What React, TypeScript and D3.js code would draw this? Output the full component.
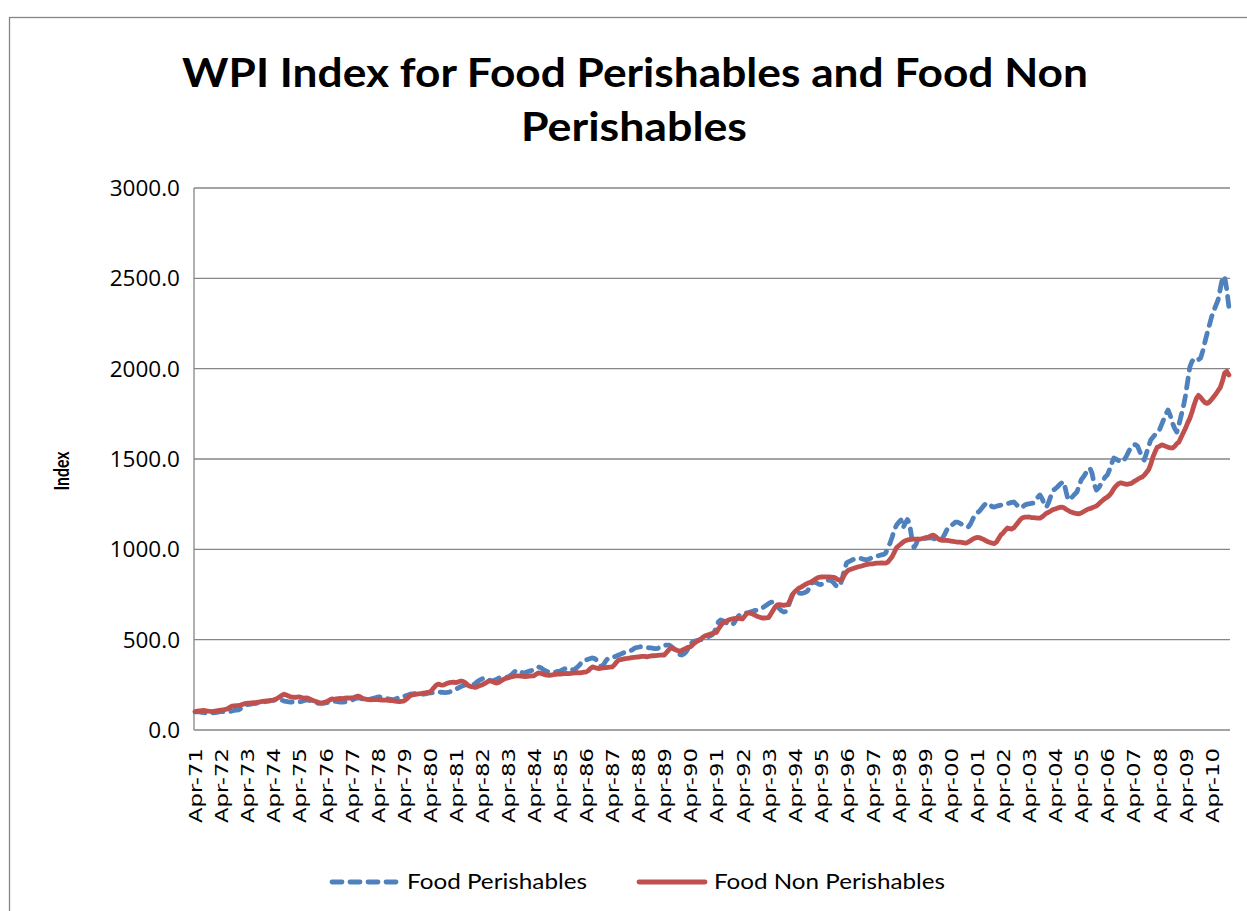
import React from 'react';
import * as d3 from 'd3';

const titleLines = ['WPI Index for Food Perishables and Food Non', 'Perishables'];
const yAxisTitle = 'Index';
const seriesNames = ['Food Perishables', 'Food Non Perishables'];
const yTicks = [0, 500, 1000, 1500, 2000, 2500, 3000];
const monthNames = ['Jan', 'Feb', 'Mar', 'Apr', 'May', 'Jun', 'Jul', 'Aug', 'Sep', 'Oct', 'Nov', 'Dec'];
const startYear = 1971;
const startMonth = 3; // April

// Monthly values, Apr-71 .. Dec-10 (one row per Apr..Mar year)
const perishables = [
  100, 101, 100, 98, 96, 95, 94, 94, 95, 96, 98, 100,
  102, 101, 100, 100, 102, 105, 108, 110, 112, 118, 125, 132,
  140, 142, 145, 146, 148, 150, 152, 154, 156, 158, 160, 162,
  164, 168, 172, 170, 165, 160, 158, 156, 155, 155, 154, 155,
  155, 158, 162, 165, 166, 162, 158, 154, 150, 148, 147, 148,
  150, 152, 156, 160, 160, 158, 156, 155, 155, 156, 158, 160,
  165, 170, 175, 178, 176, 172, 170, 169, 170, 172, 175, 178,
  182, 184, 183, 180, 176, 172, 170, 168, 170, 175, 180, 184,
  186, 190, 194, 198, 200, 202, 205, 204, 200, 198, 200, 203,
  205, 206, 208, 210, 210, 209, 208, 207, 208, 210, 214, 220,
  224, 232, 238, 244, 248, 250, 248, 246, 250, 258, 268, 276,
  282, 288, 286, 280, 274, 272, 276, 282, 288, 292, 294, 293,
  293, 300, 310, 322, 330, 328, 320, 316, 318, 322, 326, 330,
  335, 342, 349, 346, 338, 330, 324, 321, 320, 321, 322, 324,
  326, 332, 338, 343, 340, 336, 334, 338, 348, 360, 375, 386,
  388, 392, 396, 399, 395, 385, 370, 352, 360, 380, 395, 400,
  402, 405, 410, 415, 420, 426, 430, 432, 436, 442, 450, 456,
  458, 461, 460, 458, 456, 455, 454, 452, 450, 452, 458, 464,
  468, 470, 470, 465, 455, 440, 425, 418, 415, 420, 432, 450,
  470, 487, 492, 495, 498, 500, 505, 510, 515, 520, 526, 540,
  570, 600, 609, 605, 598, 590, 584, 581, 590, 610, 628, 640,
  642, 646, 648, 650, 654, 658, 662, 664, 668, 674, 682, 690,
  700, 706, 709, 704, 690, 672, 660, 653, 656, 680, 715, 745,
  758, 760, 758, 756, 758, 762, 770, 790, 813, 819, 815, 808,
  805, 810, 820, 828, 830, 825, 815, 800, 792, 800, 840, 890,
  925, 932, 938, 944, 948, 950, 952, 948, 944, 942, 945, 950,
  955, 958, 962, 966, 969, 972, 980, 1010, 1035, 1070, 1110, 1135,
  1150, 1162, 1120, 1145, 1165, 1140, 1060, 1010, 1030, 1063, 1062, 1063,
  1060, 1062, 1064, 1063, 1060, 1056, 1054, 1052, 1060, 1080, 1105, 1124,
  1130, 1140, 1150, 1151, 1145, 1138, 1130, 1126, 1124, 1140, 1165, 1190,
  1201, 1210, 1225, 1240, 1252, 1256, 1248, 1236, 1234, 1238, 1242, 1245,
  1245, 1248, 1252, 1256, 1260, 1262, 1250, 1238, 1229, 1235, 1245, 1250,
  1252, 1254, 1256, 1270, 1288, 1301, 1280, 1250, 1234, 1260, 1295, 1325,
  1335, 1345, 1358, 1368, 1373, 1320, 1273, 1280, 1292, 1305, 1317, 1350,
  1385, 1400, 1420, 1440, 1450, 1420, 1360, 1328, 1340, 1360, 1380, 1400,
  1411, 1440, 1475, 1505, 1500, 1492, 1486, 1484, 1500, 1520, 1545, 1565,
  1577, 1580, 1570, 1540, 1510, 1494, 1530, 1570, 1605, 1620, 1635, 1648,
  1660, 1690, 1720, 1750, 1771, 1740, 1699, 1670, 1649, 1690, 1740, 1788,
  1850, 1930, 2009, 2040, 2055, 2059, 2050, 2060, 2100, 2150, 2197, 2240,
  2286, 2320, 2350, 2380, 2440, 2500, 2510, 2440, 2340,
];

const nonPerishables = [
  102, 104, 106, 107, 108, 106, 104, 103, 102, 104, 106, 108,
  110, 112, 114, 118, 125, 132, 134, 135, 136, 138, 142, 146,
  148, 149, 150, 151, 152, 154, 156, 158, 160, 161, 162, 164,
  166, 170, 176, 184, 192, 198, 194, 188, 184, 182, 180, 182,
  183, 180, 175, 178, 176, 170, 165, 160, 156, 152, 150, 152,
  155, 160, 166, 172, 170, 172, 174, 175, 174, 176, 178, 177,
  177, 180, 184, 188, 184, 176, 172, 170, 168, 167, 168, 168,
  168, 167, 166, 165, 165, 164, 163, 162, 160, 158, 157, 159,
  160, 168, 178, 190, 194, 196, 198, 200, 202, 204, 206, 208,
  210, 220, 235, 248, 254, 250, 248, 252, 258, 262, 264, 265,
  262, 266, 270, 271, 265, 255, 245, 240, 238, 236, 240, 246,
  249, 255, 262, 270, 271, 268, 262, 260, 264, 272, 280, 286,
  288, 292, 295, 298, 299, 300, 298, 297, 296, 297, 298, 299,
  300, 308, 316, 314, 310, 306, 304, 303, 304, 306, 308, 309,
  310, 311, 312, 313, 312, 314, 315, 316, 317, 316, 318, 320,
  321, 328, 340, 349, 346, 342, 340, 342, 344, 345, 347, 348,
  349, 360, 375, 387, 390, 392, 395, 396, 398, 400, 402, 403,
  404, 406, 408, 407, 405, 408, 410, 411, 412, 413, 414, 415,
  415, 428, 442, 454, 452, 446, 440, 437, 440, 446, 452, 458,
  460, 470, 482, 490, 498, 505, 515, 522, 526, 530, 534, 538,
  540, 560, 578, 592, 600, 605, 610, 614, 616, 618, 618, 617,
  615, 630, 645, 648, 645, 640, 634, 628, 624, 620, 620, 621,
  622, 640, 660, 680, 692, 694, 692, 690, 692, 694, 720, 750,
  764, 775, 785, 791, 798, 806, 812, 816, 822, 830, 838, 844,
  847, 847, 848, 848, 847, 846, 845, 840, 832, 830, 836, 860,
  876, 886, 890, 894, 898, 902, 905, 908, 912, 915, 918, 920,
  920, 922, 924, 924, 925, 924, 924, 930, 945, 960, 985, 1010,
  1020, 1030, 1040, 1048, 1052, 1054, 1056, 1057, 1056, 1056, 1057, 1060,
  1063, 1066, 1070, 1076, 1079, 1070, 1060, 1052, 1050, 1050, 1050, 1048,
  1046, 1044, 1042, 1040, 1040, 1038, 1036, 1035, 1040, 1048, 1056, 1062,
  1066, 1065, 1060, 1055, 1048, 1042, 1038, 1034, 1032, 1040, 1060, 1080,
  1090, 1105, 1118, 1115, 1112, 1120, 1135, 1150, 1165, 1175, 1178, 1178,
  1179, 1176, 1175, 1174, 1173, 1173, 1180, 1190, 1200, 1205, 1212, 1220,
  1223, 1228, 1232, 1234, 1230, 1222, 1215, 1208, 1204, 1200, 1198, 1197,
  1201, 1208, 1215, 1222, 1225, 1230, 1235, 1240, 1250, 1262, 1272, 1282,
  1289, 1300, 1315, 1335, 1350, 1362, 1368, 1366, 1362, 1360, 1362, 1365,
  1373, 1380, 1388, 1395, 1400, 1410, 1425, 1440, 1470, 1510, 1540, 1565,
  1570, 1578, 1575, 1570, 1565, 1562, 1561, 1570, 1585, 1594, 1620, 1645,
  1670, 1700, 1725, 1760, 1800, 1835, 1852, 1840, 1825, 1812, 1808, 1815,
  1830, 1845, 1860, 1878, 1895, 1930, 1975, 1985, 1965,
];

const BLUE = '#4F81BD';
const RED = '#C0504D';
const GRID = '#868686';

export default function App() {
  const W = 1247;
  const H = 911;
  const plot = { left: 194, right: 1230, top: 188, bottom: 730 };
  const n = nonPerishables.length;
  const idx = d3.range(n);
  const categories = idx.map((i) => {
    const m = (startMonth + i) % 12;
    const yr = startYear + Math.floor((startMonth + i) / 12);
    return `${monthNames[m]}-${String(yr % 100).padStart(2, '0')}`;
  });

  const x = d3.scalePoint<number>().domain(idx).range([plot.left, plot.right]).padding(0.5);
  const y = d3.scaleLinear().domain([0, 3000]).range([plot.bottom, plot.top]);
  const line = d3
    .line<number>()
    .x((_, i) => x(i) as number)
    .y((d) => y(d));

  const labelIdx = idx.filter((i) => i % 12 === 0);

  return (
    <svg
      width={W}
      height={H}
      viewBox={`0 0 ${W} ${H}`}
      style={{ position: 'absolute', left: 0, top: 0, background: '#fff' }}
    >
      <rect x={0} y={0} width={W} height={H} fill="#fff" />
      <rect x={9.5} y={17.5} width={W + 50} height={H + 50} fill="none" stroke={GRID} strokeWidth={1.3} />

      {/* title */}
      <g fontFamily="Lato, 'Open Sans', sans-serif" fontWeight="bold" fontSize={41} fill="#000" textAnchor="middle">
        <text x={635} y={87} textLength={906} lengthAdjust="spacingAndGlyphs">{titleLines[0]}</text>
        <text x={634} y={141} textLength={226} lengthAdjust="spacingAndGlyphs">{titleLines[1]}</text>
      </g>

      {/* gridlines */}
      {yTicks.filter((t) => t > 0).map((t) => (
        <line key={t} x1={plot.left} x2={plot.right} y1={y(t)} y2={y(t)} stroke={GRID} strokeWidth={1.3} />
      ))}
      {/* axes */}
      <line x1={plot.left} x2={plot.left} y1={plot.top} y2={plot.bottom} stroke={GRID} strokeWidth={1.3} />
      <line x1={plot.left} x2={plot.right} y1={plot.bottom} y2={plot.bottom} stroke={GRID} strokeWidth={1.3} />

      {/* y tick labels */}
      <g fontFamily="'Open Sans', sans-serif" fontSize={22.5} fill="#000" textAnchor="end">
        {yTicks.map((t) => (
          <text key={t} x={180} y={y(t)} dy="0.35em">{t.toFixed(1)}</text>
        ))}
      </g>

      {/* y axis title */}
      <text
        transform={`translate(69, 471) rotate(-90)`}
        textAnchor="middle"
        fontFamily="Lato, sans-serif"
        fontWeight="bold"
        fontSize={21}
        textLength={39}
        lengthAdjust="spacingAndGlyphs"
      >
        {yAxisTitle}
      </text>

      {/* x tick labels */}
      <g fontFamily="'DejaVu Sans', sans-serif" fontSize={17.5} fill="#000">
        {labelIdx.map((i) => (
          <text
            key={i}
            transform={`translate(${(x(i) as number) + 1}, 748) rotate(-90)`}
            textAnchor="end"
            dy="0.35em"
            textLength={75}
            lengthAdjust="spacingAndGlyphs"
          >
            {categories[i]}
          </text>
        ))}
      </g>

      {/* series */}
      <path
        d={line(perishables) || ''}
        fill="none"
        stroke={BLUE}
        strokeWidth={4.8}
        strokeDasharray="10,8"
        strokeLinecap="round"
        strokeLinejoin="round"
      />
      <path
        d={line(nonPerishables) || ''}
        fill="none"
        stroke={RED}
        strokeWidth={4.8}
        strokeLinecap="round"
        strokeLinejoin="round"
      />

      {/* legend */}
      <g fontFamily="Lato, sans-serif" fontSize={21} fill="#000">
        <line x1={332} x2={398} y1={882} y2={882} stroke={BLUE} strokeWidth={4.8} strokeDasharray="10,8" strokeLinecap="round" />
        <text x={407} y={889} textLength={180} lengthAdjust="spacingAndGlyphs">{seriesNames[0]}</text>
        <line x1={639} x2={705} y1={882} y2={882} stroke={RED} strokeWidth={4.8} strokeLinecap="round" />
        <text x={714} y={889} textLength={231} lengthAdjust="spacingAndGlyphs">{seriesNames[1]}</text>
      </g>
    </svg>
  );
}
